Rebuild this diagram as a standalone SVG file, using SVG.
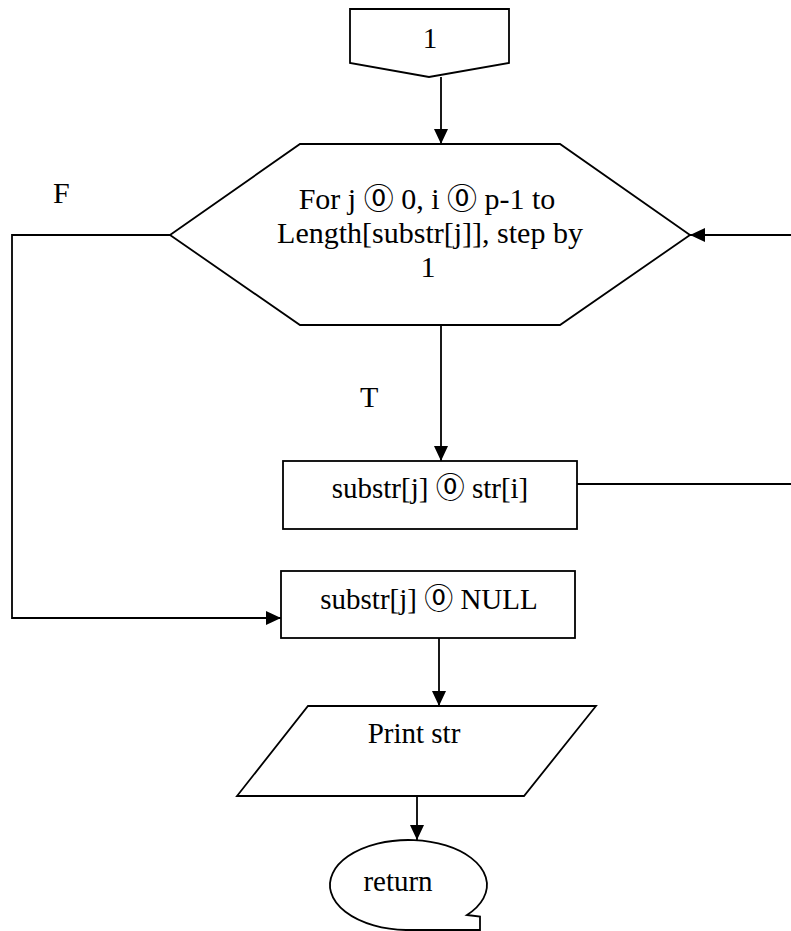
<svg xmlns="http://www.w3.org/2000/svg" width="791" height="931" viewBox="0 0 791 931">
<style>
.s{fill:#fff;stroke:#000;stroke-width:1.8}
.c{fill:none;stroke:#000;stroke-width:1.8}
.t{font-family:"Liberation Serif","Times New Roman","Noto Sans CJK JP",serif;font-size:29px;fill:#000;text-anchor:middle}
.h{font-size:30px}
.l{text-anchor:start;font-size:30px}
</style>
<defs>
<marker id="ar" markerUnits="userSpaceOnUse" markerWidth="15" markerHeight="14" refX="15" refY="7" orient="auto">
<path d="M0,0 L15,7 L0,14 z" fill="#000"/>
</marker>
</defs>
<rect width="791" height="931" fill="#fff"/>
<g id="connectors">
<path class="c" d="M441,77 V144" marker-end="url(#ar)"/>
<path class="c" d="M441,325 V461" marker-end="url(#ar)"/>
<path class="c" d="M170,235 H12 V618 H281" marker-end="url(#ar)"/>
<path class="c" d="M577,484 H795 V235 H690" marker-end="url(#ar)"/>
<path class="c" d="M439,638 V706" marker-end="url(#ar)"/>
<path class="c" d="M417,796 V840" stroke="#333" marker-end="url(#ar)"/>
</g>
<g id="n_offpage">
<path class="s" d="M350,9 H509 V63 L429,77 L350,63 Z"/>
<text class="t" x="430" y="48" font-size="28">1</text>
</g>
<g id="n_loop">
<path class="s" d="M300,144 H560 L690,235 L560,325 H300 L170,235 Z"/>
<text class="t h" x="427" y="209">For j ⓪ 0, i ⓪ p-1 to</text>
<text class="t h" x="430" y="243">Length[substr[j]], step by</text>
<text class="t h" x="428" y="277">1</text>
</g>
<g id="lbl_F"><text class="t l" x="53" y="203">F</text></g>
<g id="lbl_T"><text class="t l" x="360" y="407">T</text></g>
<g id="n_assign">
<rect class="s" x="283" y="461" width="294" height="68"/>
<text class="t" x="430" y="498">substr[j] ⓪ str[i]</text>
</g>
<g id="n_null">
<rect class="s" x="281" y="571" width="294" height="67"/>
<text class="t" x="429" y="609">substr[j] ⓪ NULL</text>
</g>
<g id="n_print">
<path class="s" d="M308,706 H596 L524,796 H237 Z"/>
<text class="t" x="414" y="743">Print str</text>
</g>
<g id="n_return">
<path class="s" d="M467,915 L480,916.5 V930 H406 A78.5,45 0 1 1 467,915 Z"/>
<text class="t" x="398" y="891">return</text>
</g>
</svg>
